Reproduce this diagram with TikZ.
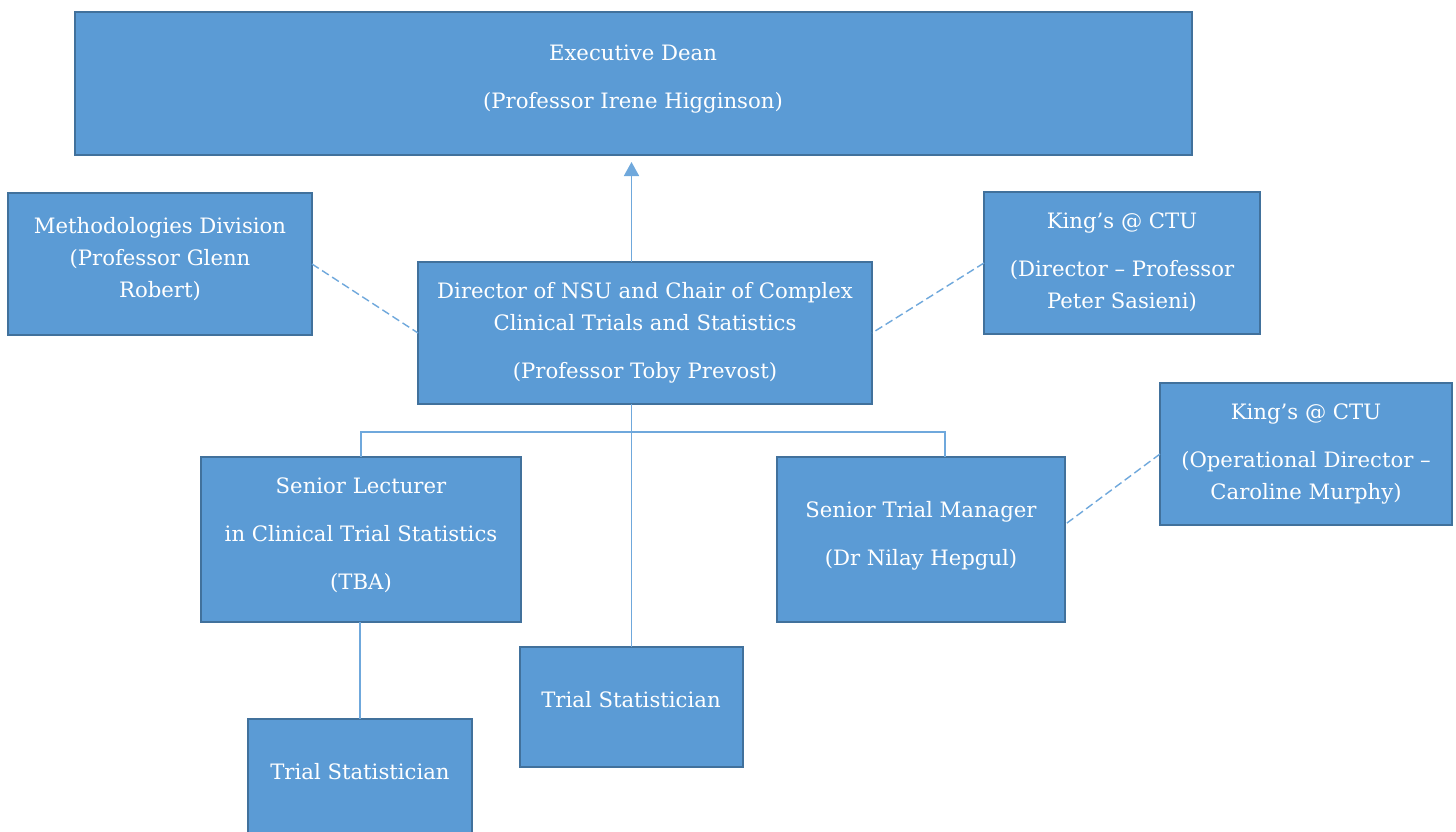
\documentclass[tikz,border=0pt]{standalone}
\usepackage{fontspec}
\setmainfont{DejaVu Serif}
\usetikzlibrary{arrows.meta,calc}
\definecolor{boxfill}{HTML}{5B9BD5}
\definecolor{boxedge}{HTML}{41719C}
\definecolor{linkc}{HTML}{6FA8DC}
\begin{document}
\begin{tikzpicture}[x=1pt,y=-1pt,
  box/.style={draw=boxedge, line width=2.4pt, fill=boxfill, inner sep=0pt, outer sep=0pt, anchor=north west},
  txt/.style={text=white, font=\fontsize{21.2}{25}\selectfont, inner sep=0pt, anchor=base},
  link/.style={draw=linkc, line width=1.7pt},
  dlink/.style={link, line width=1.4pt, dash pattern=on 8pt off 4pt},
  uparrow/.style={link, -{Triangle[length=14pt,width=15pt]}, shorten >=7pt}]
\clip (0,0) rectangle (1456,832);
\fill[white] (0,0) rectangle (1456,832);
% boxes
\node[box, minimum width=1117pt, minimum height=143pt] (dean) at (75,12) {};
\node[box, minimum width=304pt, minimum height=142pt] (meth) at (8,193) {};
\node[box, minimum width=454pt, minimum height=142pt] (dir) at (418,262) {};
\node[box, minimum width=276pt, minimum height=142pt] (ctu1) at (984,192) {};
\node[box, minimum width=292pt, minimum height=142pt] (ctu2) at (1160,383) {};
\node[box, minimum width=320pt, minimum height=165pt] (lect) at (201,457) {};
\node[box, minimum width=288pt, minimum height=165pt] (mgr) at (777,457) {};
\node[box, minimum width=223pt, minimum height=120pt] (stat1) at (520,647) {};
\node[box, minimum width=224pt, minimum height=140pt] (stat2) at (248,719) {};
% connectors
\coordinate (mgrdrop) at (945,432);
\draw[uparrow] (dir.north -| stat1.north) -- (dean.south -| stat1.north);
\draw[link] (dir.south -| stat1.north) -- (stat1.north);
\draw[link] (lect.north) |- (mgrdrop) -- (mgrdrop |- mgr.north);
\draw[link] (stat2.north |- lect.south) -- (stat2.north);
\draw[dlink] (meth.east) -- (dir.west);
\draw[dlink] (ctu1.west) -- (dir.east);
\draw[dlink] (ctu2.west) -- ($(mgr.east)+(0,-15)$);
% texts
\node[txt] (t1) at (633,61) {Executive Dean};
\node[txt] (t2) at (633,109) {(Professor Irene Higginson)};
\node[txt] (t3) at (160,233) {Methodologies Division};
\node[txt] (t4) at (160,265) {(Professor Glenn};
\node[txt] (t5) at (160,297) {Robert)};
\node[txt] (t6) at (645,298) {Director of NSU and Chair of Complex};
\node[txt] (t7) at (645,330) {Clinical Trials and Statistics};
\node[txt] (t8) at (645,378) {(Professor Toby Prevost)};
\node[txt] (t9) at (1122,228) {King’s @ CTU};
\node[txt] (t10) at (1122,276) {(Director – Professor};
\node[txt] (t11) at (1122,308) {Peter Sasieni)};
\node[txt] (t12) at (1306,419) {King’s @ CTU};
\node[txt] (t13) at (1306,467) {(Operational Director –};
\node[txt] (t14) at (1306,499) {Caroline Murphy)};
\node[txt] (t15) at (361,493) {Senior Lecturer};
\node[txt] (t16) at (361,541) {in Clinical Trial Statistics};
\node[txt] (t17) at (361,589) {(TBA)};
\node[txt] (t18) at (921,517) {Senior Trial Manager};
\node[txt] (t19) at (921,565) {(Dr Nilay Hepgul)};
\node[txt] (t20) at (631,707) {Trial Statistician};
\node[txt] (t21) at (360,779) {Trial Statistician};
\end{tikzpicture}
\end{document}
